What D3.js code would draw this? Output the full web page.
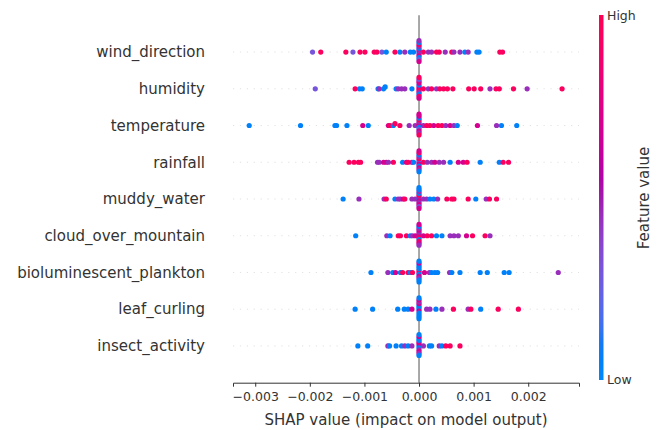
<!DOCTYPE html>
<html>
<head>
<meta charset="utf-8">
<script src="https://cdn.jsdelivr.net/npm/d3@7"></script>
<style>
  body { margin: 0; background: #fff; }
  svg { font-family: "DejaVu Sans", sans-serif; }
</style>
</head>
<body>
<div id="chart"></div>
<script>
// features, top to bottom
let features = ["wind_direction", "humidity", "temperature", "rainfall", "muddy_water",
  "cloud_over_mountain", "bioluminescent_plankton", "leaf_curling", "insect_activity"];

// [shap value, feature value 0..1]
let windDirection = [[-0.00195,0.3],[-0.0018,0.95],[-0.00134,0.95],[-0.00121,0.3],[-0.00108,0.95],[-0.00099,0.95],
  [-0.00082,0.95],[-0.00077,0.95],[-0.00068,0.3],[-0.0006,0.05],[-0.00044,0.95],[-0.00035,0.05],[-0.00026,0.45],
  [-0.00016,0.05],[-0.0001,0.05],[0.00008,0.95],[0.00017,0.45],[0.00023,0.45],[0.00032,0.95],[0.00037,0.95],
  [0.00048,0.45],[0.0006,0.95],[0.00064,0.45],[0.00075,0.45],[0.00084,0.05],[0.0009,0.45],[0.00106,0.05],
  [0.0011,0.05],[0.00148,0.95],[0.00153,0.95],
  [0,0.05],[0,0.7],[0,0.45],[0,0.05],[0,0.7],[0,0.45],[0,0.05],[0,0.95],[0,0.3],[0,0.05],[0,0.7],[0,0.45]];
let humidity = [[-0.0019,0.3],[-0.00117,0.95],[-0.00109,0.05],[-0.00104,0.05],[-0.00075,0.05],[-0.00073,0.45],
  [-0.00065,0.05],[-0.00062,0.05],[-0.00042,0.05],[-0.00038,0.45],[-0.00032,0.45],[-0.00026,0.45],[-0.00013,0.05],
  [0.00008,0.95],[0.00017,0.45],[0.00023,0.95],[0.00032,0.45],[0.00038,0.95],[0.00045,0.95],[0.00052,0.95],
  [0.00062,0.95],[0.00091,0.95],[0.00101,0.95],[0.00113,0.95],[0.0013,0.45],[0.00141,0.95],[0.00147,0.95],
  [0.00173,0.95],[0.00198,0.45],[0.00262,0.95],
  [0,0.7],[0,0.7],[0,0.95],[0,0.05],[0,0.45],[0,0.7],[0,0.05],[0,0.7],[0,0.95],[0,0.3],[0,0.7],[0,0.95]];
let temperature = [[-0.00311,0.05],[-0.00217,0.05],[-0.00154,0.05],[-0.00151,0.05],[-0.00132,0.05],[-0.00103,0.7],
  [-0.00093,0.05],[-0.00056,0.7],[-0.00053,0.95],[-0.00047,0.05],[-0.00044,0.95],[-0.00035,0.95],[-0.00018,0.45],
  [-0.00007,0.45],[0.00008,0.45],[0.00014,0.95],[0.0002,0.95],[0.00027,0.7],[0.00035,0.95],[0.00042,0.95],
  [0.00049,0.45],[0.00057,0.7],[0.00064,0.45],[0.0007,0.05],[0.00107,0.7],[0.00142,0.45],[0.00151,0.05],
  [0.00179,0.05],
  [0,0.95],[0,0.7],[0,0.05],[0,0.45],[0,0.3],[0,0.95],[0,0.7],[0,0.05],[0,0.45],[0,0.7],[0,0.95],[0,0.7]];
let rainfall = [[-0.00128,0.95],[-0.00119,0.95],[-0.00111,0.95],[-0.00107,0.95],[-0.00076,0.45],[-0.00073,0.45],
  [-0.00065,0.7],[-0.0006,0.7],[-0.00056,0.45],[-0.00047,0.95],[-0.0003,0.05],[-0.00023,0.7],[-0.0002,0.95],
  [-0.00013,0.7],[-0.0001,0.05],[0.00008,0.95],[0.00015,0.45],[0.00023,0.45],[0.00029,0.7],[0.00037,0.45],
  [0.00045,0.45],[0.00057,0.05],[0.00072,0.7],[0.00081,0.7],[0.00088,0.95],[0.00112,0.05],[0.00147,0.05],
  [0.00154,0.95],[0.00164,0.95],
  [0,0.45],[0,0.3],[0,0.7],[0,0.95],[0,0.05],[0,0.45],[0,0.7],[0,0.05],[0,0.45],[0,0.95],[0,0.05],[0,0.7]];
let muddyWater = [[-0.00139,0.05],[-0.0011,0.45],[-0.00064,0.45],[-0.0006,0.95],[-0.00044,0.05],[-0.00038,0.45],
  [-0.00034,0.45],[-0.00029,0.7],[-0.00026,0.95],[-0.00013,0.45],[-0.00007,0.45],[0.00008,0.45],[0.00014,0.45],
  [0.0002,0.05],[0.00027,0.05],[0.00034,0.45],[0.00051,0.95],[0.0006,0.95],[0.00064,0.95],[0.0009,0.95],
  [0.00104,0.05],[0.00123,0.45],[0.00129,0.95],[0.00142,0.95],
  [0,0.05],[0,0.45],[0,0.7],[0,0.95],[0,0.45],[0,0.05],[0,0.7],[0,0.45],[0,0.3],[0,0.05],[0,0.7],[0,0.05]];
let cloudOverMountain = [[-0.00116,0.05],[-0.00059,0.45],[-0.00053,0.05],[-0.00038,0.95],[-0.00034,0.95],
  [-0.00023,0.95],[-0.00016,0.05],[-0.00012,0.45],[-0.00007,0.7],[0.00008,0.7],[0.00015,0.95],[0.00023,0.95],
  [0.00032,0.05],[0.00042,0.05],[0.00057,0.45],[0.00064,0.45],[0.00072,0.45],[0.00087,0.7],[0.00098,0.95],
  [0.00121,0.95],[0.0013,0.45],
  [0,0.45],[0,0.7],[0,0.95],[0,0.45],[0,0.05],[0,0.7],[0,0.95],[0,0.45],[0,0.7],[0,0.05],[0,0.45],[0,0.7]];
let biolumPlankton = [[-0.00088,0.05],[-0.00057,0.45],[-0.00048,0.05],[-0.00043,0.7],[-0.00034,0.05],
  [-0.0003,0.95],[-0.0002,0.95],[-0.00016,0.05],[-0.00012,0.95],[0.0001,0.7],[0.00019,0.45],[0.00023,0.05],
  [0.00029,0.05],[0.00034,0.05],[0.00056,0.45],[0.0006,0.05],[0.00075,0.05],[0.00112,0.05],[0.00125,0.05],
  [0.00156,0.05],[0.00165,0.05],[0.00255,0.45],
  [0,0.7],[0,0.95],[0,0.05],[0,0.05],[0,0.7],[0,0.05],[0,0.45],[0,0.05],[0,0.05],[0,0.7],[0,0.05],[0,0.05]];
let leafCurling = [[-0.00117,0.05],[-0.00085,0.05],[-0.00039,0.05],[-0.00027,0.05],[-0.0002,0.05],[-0.00013,0.7],
  [0.00014,0.45],[0.0002,0.45],[0.00031,0.05],[0.00042,0.45],[0.00063,0.95],[0.0009,0.45],[0.00095,0.95],
  [0.00113,0.05],[0.00145,0.95],[0.00182,0.95],
  [0,0.05],[0,0.05],[0,0.7],[0,0.05],[0,0.05],[0,0.7],[0,0.05],[0,0.45],[0,0.05],[0,0.7],[0,0.05],[0,0.05]];
let insectActivity = [[-0.00112,0.05],[-0.00094,0.05],[-0.00057,0.45],[-0.00054,0.05],[-0.00042,0.05],
  [-0.00032,0.05],[-0.00026,0.45],[-0.0002,0.05],[-0.00013,0.45],[0.00008,0.45],[0.00019,0.05],[0.00023,0.05],
  [0.00037,0.45],[0.00042,0.05],[0.00049,0.95],[0.00057,0.95],[0.00075,0.95],
  [0,0.05],[0,0.7],[0,0.05],[0,0.7],[0,0.45],[0,0.05],[0,0.7],[0,0.05],[0,0.45],[0,0.7],[0,0.05],[0,0.05]];

let rows = [windDirection, humidity, temperature, rainfall, muddyWater,
  cloudOverMountain, biolumPlankton, leafCurling, insectActivity];
let xTicks = [-0.003, -0.002, -0.001, 0, 0.001, 0.002];

let W = 660, H = 430;
let svg = d3.select("#chart").append("svg").attr("width", W).attr("height", H);

let x = d3.scaleLinear().domain([-0.003407, 0.00293]).range([233, 579]);
// row position: bottom feature at 0, top at n-1
let n = features.length;
let y = d3.scaleLinear().domain([-1, n]).range([382.7, 15.3]);

// shap style blue -> red, lightness dips in the middle (lch)
let lScale = d3.scaleLinear().domain([0, 0.5, 1]).range([54, 40, 54]);
let cScale = d3.scaleLinear().domain([0, 1]).range([70, 90]);
let hScale = d3.scaleLinear().domain([0, 1]).range([266.9, 380.3]);
let color = t => d3.hcl(hScale(t) % 360, cScale(t), lScale(t)).formatRgb();

// grid lines
features.forEach((f, i) => {
  let pos = n - 1 - i;
  svg.append("line")
    .attr("x1", x.range()[0]).attr("x2", x.range()[1])
    .attr("y1", y(pos)).attr("y2", y(pos))
    .attr("stroke", "#cccccc").attr("stroke-width", 0.6)
    .attr("stroke-dasharray", "1.2,5.7");
});

// zero line
svg.append("line")
  .attr("x1", x(0)).attr("x2", x(0))
  .attr("y1", y(n)).attr("y2", y(-1))
  .attr("stroke", "#999999").attr("stroke-width", 1.7);

// beeswarm offsets like shap does it
function swarm(vals) {
  let mn = d3.min(vals), mx = d3.max(vals);
  let quant = vals.map(v => Math.round(100 * (v - mn) / (mx - mn + 1e-8)));
  let order = d3.range(vals.length).sort((a, b) => quant[a] - quant[b] || a - b);
  let ys = new Array(vals.length).fill(0);
  let layer = 0, last = -1;
  order.forEach(i => {
    if (quant[i] !== last) layer = 0;
    ys[i] = Math.ceil(layer / 2) * ((layer % 2) * 2 - 1);
    layer++;
    last = quant[i];
  });
  let m = d3.max(ys, v => v + 1);
  return ys.map(v => v * 0.9 * (0.4 / m));
}

rows.forEach((data, i) => {
  let pos = n - 1 - i;
  let offs = swarm(data.map(d => d[0]));
  svg.append("g").selectAll("circle")
    .data(data)
    .join("circle")
    .attr("cx", d => x(d[0]))
    .attr("cy", (d, j) => y(pos + offs[j]))
    .attr("r", 2.6)
    .attr("fill", d => color(d[1]));
});

// feature labels
svg.append("g").selectAll("text")
  .data(features)
  .join("text")
  .attr("x", 205)
  .attr("y", (d, i) => y(n - 1 - i))
  .attr("dy", "0.35em")
  .attr("text-anchor", "end")
  .attr("font-size", 15)
  .attr("fill", "#333333")
  .text(d => d);

// x axis
let fmt = d3.format(".3f");
let xAxis = svg.append("g")
  .attr("transform", "translate(0," + y(-1) + ")")
  .call(d3.axisBottom(x).tickValues(xTicks).tickSizeOuter(0).tickSize(4)
    .tickFormat(d => fmt(d).replace("-", "\u2212")));
xAxis.select(".domain").attr("stroke", "#333333");
xAxis.selectAll(".tick line").attr("stroke", "#333333");
xAxis.selectAll(".tick text")
  .attr("font-size", 12.5).attr("fill", "#333333")
  .attr("font-family", "DejaVu Sans").attr("dy", "0.9em");

svg.append("text")
  .attr("x", (x.range()[0] + x.range()[1]) / 2)
  .attr("y", 420)
  .attr("dy", "0.35em")
  .attr("text-anchor", "middle")
  .attr("font-size", 15)
  .attr("fill", "#333333")
  .text("SHAP value (impact on model output)");

// colour bar
let defs = svg.append("defs");
let grad = defs.append("linearGradient").attr("id", "cbar")
  .attr("x1", 0).attr("y1", 1).attr("x2", 0).attr("y2", 0);
d3.range(0, 1.0001, 0.05).forEach(t => {
  grad.append("stop").attr("offset", t).attr("stop-color", color(t));
});
svg.append("rect")
  .attr("x", 599).attr("y", 15).attr("width", 4.5).attr("height", 365)
  .attr("fill", "url(#cbar)");
svg.append("text").attr("x", 607).attr("y", 16).attr("dy", "0.35em")
  .attr("font-size", 12.5).attr("fill", "#333333").text("High");
svg.append("text").attr("x", 607).attr("y", 380).attr("dy", "0.35em")
  .attr("font-size", 12.5).attr("fill", "#333333").text("Low");
svg.append("text")
  .attr("transform", "translate(644,198) rotate(-90)")
  .attr("dy", "0.35em")
  .attr("text-anchor", "middle")
  .attr("font-size", 15)
  .attr("fill", "#333333")
  .text("Feature value");
</script>
</body>
</html>
